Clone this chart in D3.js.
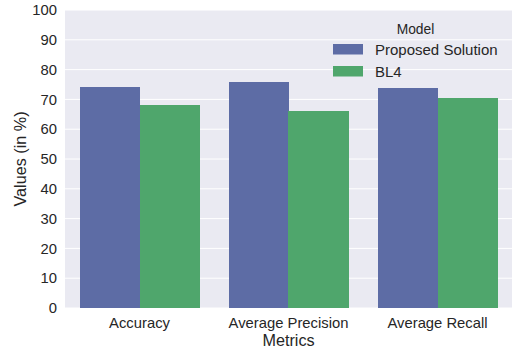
<!DOCTYPE html>
<html><head><meta charset="utf-8">
<script src="https://cdn.jsdelivr.net/npm/d3@7"></script>
<style>body{margin:0;background:#fff}svg{display:block}text{font-family:"Liberation Sans",Arial,sans-serif;fill:#262626}</style>
</head><body><svg id="c" width="525" height="353"></svg>
<script>
const categories = ["Accuracy", "Average Precision", "Average Recall"];
const seriesNames = ["Proposed Solution", "BL4"];
const proposedValues = [74.2, 75.8, 73.8];
const bl4Values = [68.1, 66.1, 70.5];
const yTicks = [0, 10, 20, 30, 40, 50, 60, 70, 80, 90, 100];
const colors = ["#5d6ca5", "#4fa66c"];

const svg = d3.select("#c");
const m = {left: 65, right: 13, top: 10, bottom: 45};
const W = 525, H = 353;
const y = d3.scaleLinear().domain([0, 100]).range([H - m.bottom, m.top]);

svg.append("rect").attr("x", m.left).attr("y", m.top).attr("width", W - m.right - m.left).attr("height", H - m.bottom - m.top).attr("fill", "#eaeaf2");

svg.append("g").selectAll("line").data(yTicks).join("line")
  .attr("x1", m.left).attr("x2", W - m.right).attr("y1", d => y(d)).attr("y2", d => y(d))
  .attr("stroke", "#fff").attr("stroke-width", 1);

const data = categories.map((c, i) => ({cat: c, vals: [proposedValues[i], bl4Values[i]]}));
const bandX = d3.scaleBand().domain(categories).range([m.left, W - m.right]).paddingInner(0).paddingOuter(0);
const groupW = bandX.bandwidth() * 0.8;
const inner = d3.scaleBand().domain(seriesNames).range([0, groupW]);
svg.append("g").attr("shape-rendering", "crispEdges").selectAll("g").data(data).join("g")
  .attr("transform", d => `translate(${bandX(d.cat) + (bandX.bandwidth() - groupW) / 2},0)`)
  .selectAll("rect").data(d => d.vals.map((v, j) => ({s: seriesNames[j], v, j}))).join("rect")
  .attr("x", d => inner(d.s)).attr("width", inner.bandwidth() + 0.5)
  .attr("y", d => y(d.v)).attr("height", d => y(0) - y(d.v))
  .attr("fill", d => colors[d.j]);

const yAxis = d3.axisLeft(y).tickValues(yTicks).tickSize(0).tickPadding(8);
const gy = svg.append("g").attr("transform", `translate(${m.left},0)`).call(yAxis);
gy.select(".domain").remove();
gy.selectAll("text").attr("font-size", "14.8px").attr("fill", "#262626").style("font-family", '"Liberation Sans",Arial,sans-serif');

const xAxis = d3.axisBottom(bandX).tickSize(0).tickPadding(9);
const gx = svg.append("g").attr("transform", `translate(0,${H - m.bottom})`).call(xAxis);
gx.select(".domain").remove();
gx.selectAll("text").attr("font-size", "14.8px").attr("fill", "#262626").style("font-family", '"Liberation Sans",Arial,sans-serif');

svg.append("text").attr("x", (m.left + W - m.right) / 2).attr("y", 346).attr("text-anchor", "middle").attr("font-size", "16.2px").text("Metrics");
svg.append("text").attr("transform", `translate(26,${(m.top + H - m.bottom) / 2}) rotate(-90)`).attr("text-anchor", "middle").attr("font-size", "16.2px").text("Values (in %)");

const lg = svg.append("g");
lg.append("text").attr("x", 415.5).attr("y", 34).attr("text-anchor", "middle").attr("font-size", "13.8px").text("Model");
seriesNames.forEach((s, i) => {
  lg.append("rect").attr("x", 333).attr("y", 44 + i * 22).attr("width", 30).attr("height", 10.5).attr("fill", colors[i]);
  lg.append("text").attr("x", 375).attr("y", 55 + i * 22).attr("font-size", "15px").text(s);
});
</script></body></html>
